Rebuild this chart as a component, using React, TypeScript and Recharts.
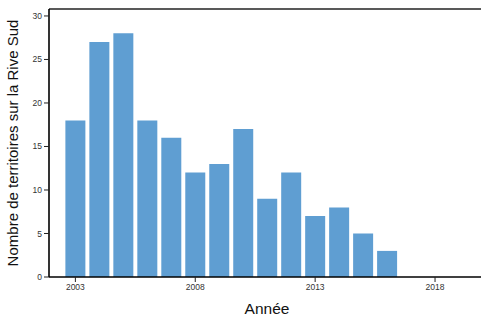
import React from 'react';
import { BarChart, Bar, XAxis, YAxis, ReferenceLine } from 'recharts';

const years = [2003, 2004, 2005, 2006, 2007, 2008, 2009, 2010, 2011, 2012, 2013, 2014, 2015, 2016];
const counts = [18, 27, 28, 18, 16, 12, 13, 17, 9, 12, 7, 8, 5, 3];
const xTicks = [2003, 2008, 2013, 2018];
const yTicks = [0, 5, 10, 15, 20, 25, 30];

const data = years.map((y, i) => ({ year: y, value: counts[i] }));

const FONT = 'Liberation Sans, Arial, Helvetica, sans-serif';

export default function App() {
  return (
    <div style={{ position: 'absolute', left: 0, top: 0, width: 481, height: 317, overflow: 'hidden', fontFamily: FONT }}>
      <BarChart width={490} height={317} data={data} margin={{ top: 9, right: 7, left: 0, bottom: 10 }}>
        <XAxis
          dataKey="year"
          type="number"
          domain={[2001.9, 2020]}
          ticks={xTicks}
          allowDataOverflow
          height={30}
          axisLine={{ stroke: '#000', strokeWidth: 1.6 }}
          tickLine={{ stroke: '#222' }}
          tickSize={5}
          tickMargin={2}
          tick={{ fontSize: 8.5, fill: '#333', fontFamily: FONT }}
          label={{
            content: () => (
              <text x={267} y={314} textAnchor="middle" fontSize={15.5} fill="#111" fontFamily={FONT}>Année</text>
            ),
          }}
        />
        <YAxis
          type="number"
          domain={[0, 30.8]}
          ticks={yTicks}
          allowDataOverflow
          width={49}
          axisLine={{ stroke: '#000', strokeWidth: 1.6 }}
          tickLine={{ stroke: '#222' }}
          tickSize={5}
          tickMargin={2}
          tick={{ fontSize: 8.5, fill: '#333', fontFamily: FONT }}
          label={{
            content: () => (
              <text x={18} y={143} transform="rotate(-90 18 143)" textAnchor="middle" fontSize={15} fill="#111" fontFamily={FONT}>
                Nombre de territoires sur la Rive Sud
              </text>
            ),
          }}
        />
        <ReferenceLine y={30.8} stroke="#222" strokeWidth={1.5} />
        <Bar dataKey="value" fill="#5f9ed2" barSize={20} isAnimationActive={false} />
      </BarChart>
    </div>
  );
}
